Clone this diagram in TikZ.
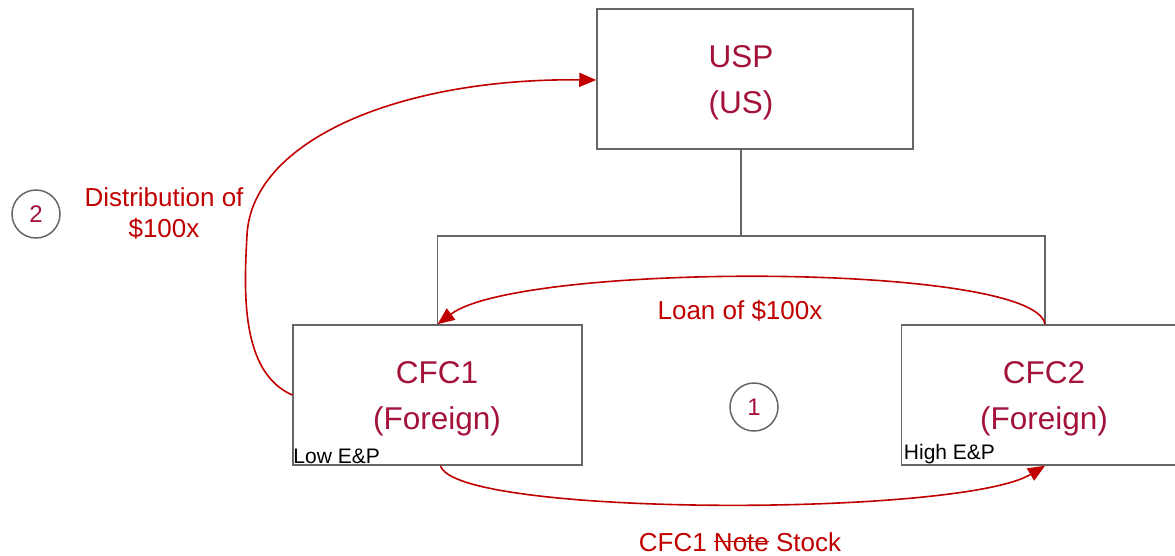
\documentclass[tikz,border=0pt]{standalone}
\usepackage{fontspec}
\setmainfont{Liberation Sans}
\usetikzlibrary{arrows.meta}
\definecolor{boxtxt}{HTML}{A3123A}
\definecolor{arrred}{HTML}{C00000}
\definecolor{linegray}{HTML}{666666}
\newcommand\strkword[1]{\setbox0\hbox{#1}\rlap{\rule[0.34em]{\wd0}{1.5pt}}\box0\relax}
\tikzset{
  entity/.style={draw=linegray, line width=1.5pt, fill=white, inner sep=0pt},
  entitytext/.style={text=boxtxt, font=\fontsize{31.5}{46}\selectfont, align=center},
  tree/.style={draw=linegray, line width=1.5pt},
  flow/.style={draw=arrred, line width=1.6pt, -{Triangle[length=17pt,width=14pt]}},
  flowlabel/.style={text=arrred, font=\fontsize{26}{31}\selectfont, align=center},
  stepcircle/.style={circle, draw=linegray, line width=1.5pt, minimum size=48pt, inner sep=0pt, text=boxtxt, font=\fontsize{24}{28}\selectfont},
  eplabel/.style={text=black, font=\fontsize{21}{24}\selectfont, inner sep=1pt}
}
\begin{document}
\begin{tikzpicture}[x=1pt,y=-1pt]
\useasboundingbox (0,0) rectangle (1175,555);
% boxes
\node[entity, minimum width=316pt, minimum height=140pt] (usp) at (755,79) {};
\node[entitytext] (usptxt) at (741,83) {USP\\(US)};
\node[entity, minimum width=289pt, minimum height=140pt] (cfc1) at (437.5,395) {};
\node[entitytext] (cfc1txt) at (437,399) {CFC1\\(Foreign)};
\node[entity, minimum width=274pt, minimum height=140pt] (cfc2) at (1038.5,395) {};
\node[entitytext] (cfc2txt) at (1044,399) {CFC2\\(Foreign)};
\node[eplabel, anchor=south west] (lowep) at ([xshift=0pt,yshift=1pt]cfc1.south west) {Low E\&P};
\node[eplabel, anchor=south west] (highep) at ([xshift=2pt,yshift=1pt]cfc2.south west) {High E\&P};
% tree
\coordinate (uspbot) at ([xshift=-14pt]usp.south);
\coordinate (bar) at (741,236);
\coordinate (cfc2top) at ([xshift=6.5pt]cfc2.north);
\draw[tree] (uspbot) -- (bar);
\draw[tree] (cfc1.north) |- (bar) -| (cfc2top);
% circles
\node[stepcircle] (s2) at (36,214) {2};
\node[stepcircle] (s1) at (754,407) {1};
% flows
\coordinate (cfc1left) at ([yshift=0pt]cfc1.west);
\coordinate (uspleft) at ([yshift=-1pt]usp.west);
\draw[flow] (cfc1left) .. controls (240,372) and (244,290) .. (247,235)
  .. controls (252,140) and (400,78) .. (uspleft);
\draw[flow] (cfc2top) .. controls (1035,262) and (520,262) .. (cfc1.north);
\coordinate (cfc1bot) at ([xshift=3pt]cfc1.south);
\coordinate (cfc2bot) at ([xshift=6.5pt]cfc2.south);
\draw[flow] (cfc1bot) .. controls (455,517) and (960,517) .. (cfc2bot);
% labels
\node[flowlabel] (distlbl) at (164,213) {Distribution of\\\$100x};
\node[flowlabel] (loanlbl) at (740,311) {Loan of \$100x};
\node[flowlabel] (stocklbl) at (740,542) {CFC1 \strkword{Note} Stock};
\end{tikzpicture}
\end{document}
